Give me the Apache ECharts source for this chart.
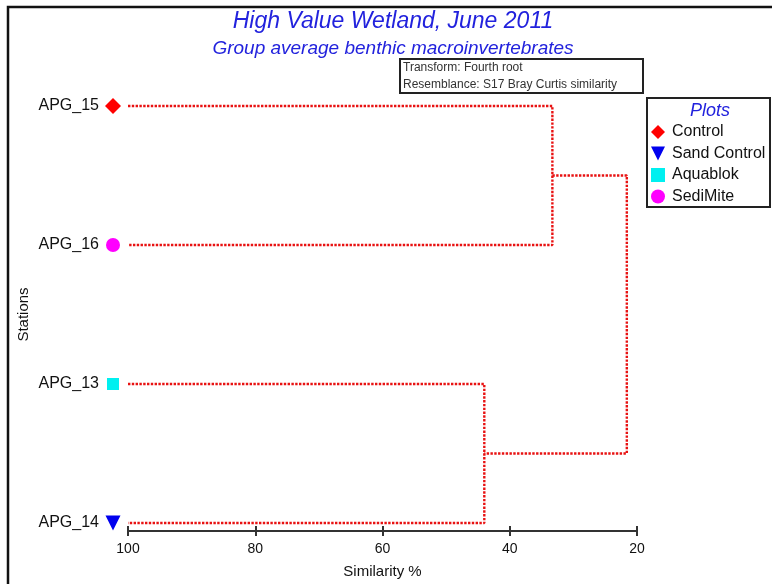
<!DOCTYPE html>
<html><head><meta charset="utf-8">
<script src="https://cdn.jsdelivr.net/npm/echarts@6/dist/echarts.min.js"></script>
<style>html,body{margin:0;padding:0;background:#fff}#c{width:772px;height:584px}</style>
</head><body><div id="c"></div>
<script>
// ---- data ----
const stations = ['APG_14', 'APG_13', 'APG_16', 'APG_15']; // bottom to top
const stationPlots = ['Sand Control', 'Aquablok', 'SediMite', 'Control'];
const plotNames = ['Control', 'Sand Control', 'Aquablok', 'SediMite'];
const plotColors = ['#ff0000', '#0000ee', '#00f0f0', '#ff00ff'];
const plotSymbols = ['diamond', 'path://M0,0 L10,0 L5,10 Z', 'rect', 'circle'];
const plotSizes = [16, 15, 12, 14];
// merges: [node a, node b, similarity %]; nodes 0..3 are leaves, 4.. are previous merges
const merges = [[3, 2, 33.3], [1, 0, 44.0], [4, 5, 21.6]];
const xTicks = [100, 80, 60, 40, 20];
const leafSimilarity = 100;

// ---- build ----
const FONT = '"Liberation Sans", Arial, sans-serif';
const nodes = stations.map((s, i) => ({ x: leafSimilarity, y: i }));
const lineSeries = [];
merges.forEach(m => {
  const a = nodes[m[0]], b = nodes[m[1]], s = m[2];
  lineSeries.push({
    type: 'line', xAxisIndex: 0, yAxisIndex: 0, symbol: 'none', silent: true, clip: false, z: 2,
    lineStyle: { color: '#e81212', width: 2.4, type: [2.4, 1.4] },
    data: [[a.x, a.y], [s, a.y], [s, b.y], [b.x, b.y]]
  });
  nodes.push({ x: s, y: (a.y + b.y) / 2 });
});
const scatterSeries = plotNames.map((p, k) => ({
  type: 'scatter', name: p, xAxisIndex: 0, yAxisIndex: 0, clip: false, z: 5,
  symbol: plotSymbols[k], symbolSize: plotSizes[k],
  symbolOffset: [-15, 0],
  itemStyle: { color: plotColors[k], opacity: 1 },
  data: stations.map((s, i) => stationPlots[i] === p ? [leafSimilarity, i] : null).filter(d => d)
}));

const chart = echarts.init(document.getElementById('c'));
chart.setOption({
  backgroundColor: '#fff',
  animation: false,
  textStyle: { fontFamily: FONT },
  title: [
    { text: 'High Value Wetland, June 2011', left: 388, top: 5, textAlign: 'center',
      textStyle: { fontFamily: FONT, fontSize: 23, fontStyle: 'italic', fontWeight: 'normal', color: '#2222dd' } },
    { text: 'Group average benthic macroinvertebrates', left: 388, top: 34, textAlign: 'center',
      textStyle: { fontFamily: FONT, fontSize: 19, fontStyle: 'italic', fontWeight: 'normal', color: '#2222dd' } }
  ],
  grid: { left: 128, right: 135, top: 106, bottom: 60 },
  xAxis: [{
    type: 'value', inverse: true, min: 20, max: 100, interval: 20, position: 'bottom', offset: 8,
    axisLine: { show: true, onZero: false, lineStyle: { color: '#333', width: 2 } },
    axisTick: { show: true, length: 5, lineStyle: { color: '#333', width: 2 } },
    axisLabel: { fontSize: 14, color: '#111', margin: 11, fontFamily: FONT, formatter: v => xTicks.includes(v) ? String(v) : '' },
    splitLine: { show: false },
    name: 'Similarity %', nameLocation: 'middle', nameGap: 33,
    nameTextStyle: { fontSize: 15, color: '#111', fontFamily: FONT }
  }, {
    type: 'value', inverse: true, min: 20, max: 100, interval: 20, position: 'bottom', offset: 8,
    axisLine: { show: false, onZero: false },
    axisTick: { show: true, inside: true, length: 5, lineStyle: { color: '#333', width: 2 } },
    axisLabel: { show: false }, splitLine: { show: false }
  }],
  yAxis: {
    type: 'value', min: 0, max: 3, interval: 1,
    axisLine: { show: false }, axisTick: { show: false }, splitLine: { show: false },
    axisLabel: { fontSize: 16, color: '#111', margin: 29, fontFamily: FONT, formatter: v => stations[v] || '' },
    name: 'Stations', nameLocation: 'middle', nameRotate: 90, nameGap: 97, nameMoveOverlap: false,
    nameTextStyle: { fontSize: 15, color: '#111', fontFamily: FONT }
  },
  legend: {
    data: plotNames, orient: 'vertical', left: 651, top: 124, padding: 0,
    itemWidth: 14, itemHeight: 14, itemGap: 5.5, selectedMode: false,
    textStyle: { fontSize: 16, color: '#111', fontFamily: FONT, padding: [0, 0, 0, 2] }
  },
  graphic: [
    { type: 'rect', shape: { x: 8, y: 7, width: 820, height: 640 }, style: { fill: 'none', stroke: '#111', lineWidth: 2.5 }, silent: true },
    { type: 'rect', shape: { x: 400, y: 59, width: 243, height: 34 }, style: { fill: '#fff', stroke: '#222', lineWidth: 2 }, z: 10 },
    { type: 'text', x: 403, y: 68, style: { text: 'Transform: Fourth root', font: '12px ' + FONT, fill: '#333', verticalAlign: 'middle' }, z: 11 },
    { type: 'text', x: 403, y: 85, style: { text: 'Resemblance: S17 Bray Curtis similarity', font: '12px ' + FONT, fill: '#333', verticalAlign: 'middle' }, z: 11 },
    { type: 'rect', shape: { x: 647, y: 98, width: 123, height: 109 }, style: { fill: 'none', stroke: '#222', lineWidth: 2 }, z: 10 },
    { type: 'text', x: 710, y: 111, style: { text: 'Plots', font: 'italic 18px ' + FONT, fill: '#2222dd', align: 'center', verticalAlign: 'middle' }, z: 11 }
  ],
  series: lineSeries.concat(scatterSeries)
});
</script></body></html>
